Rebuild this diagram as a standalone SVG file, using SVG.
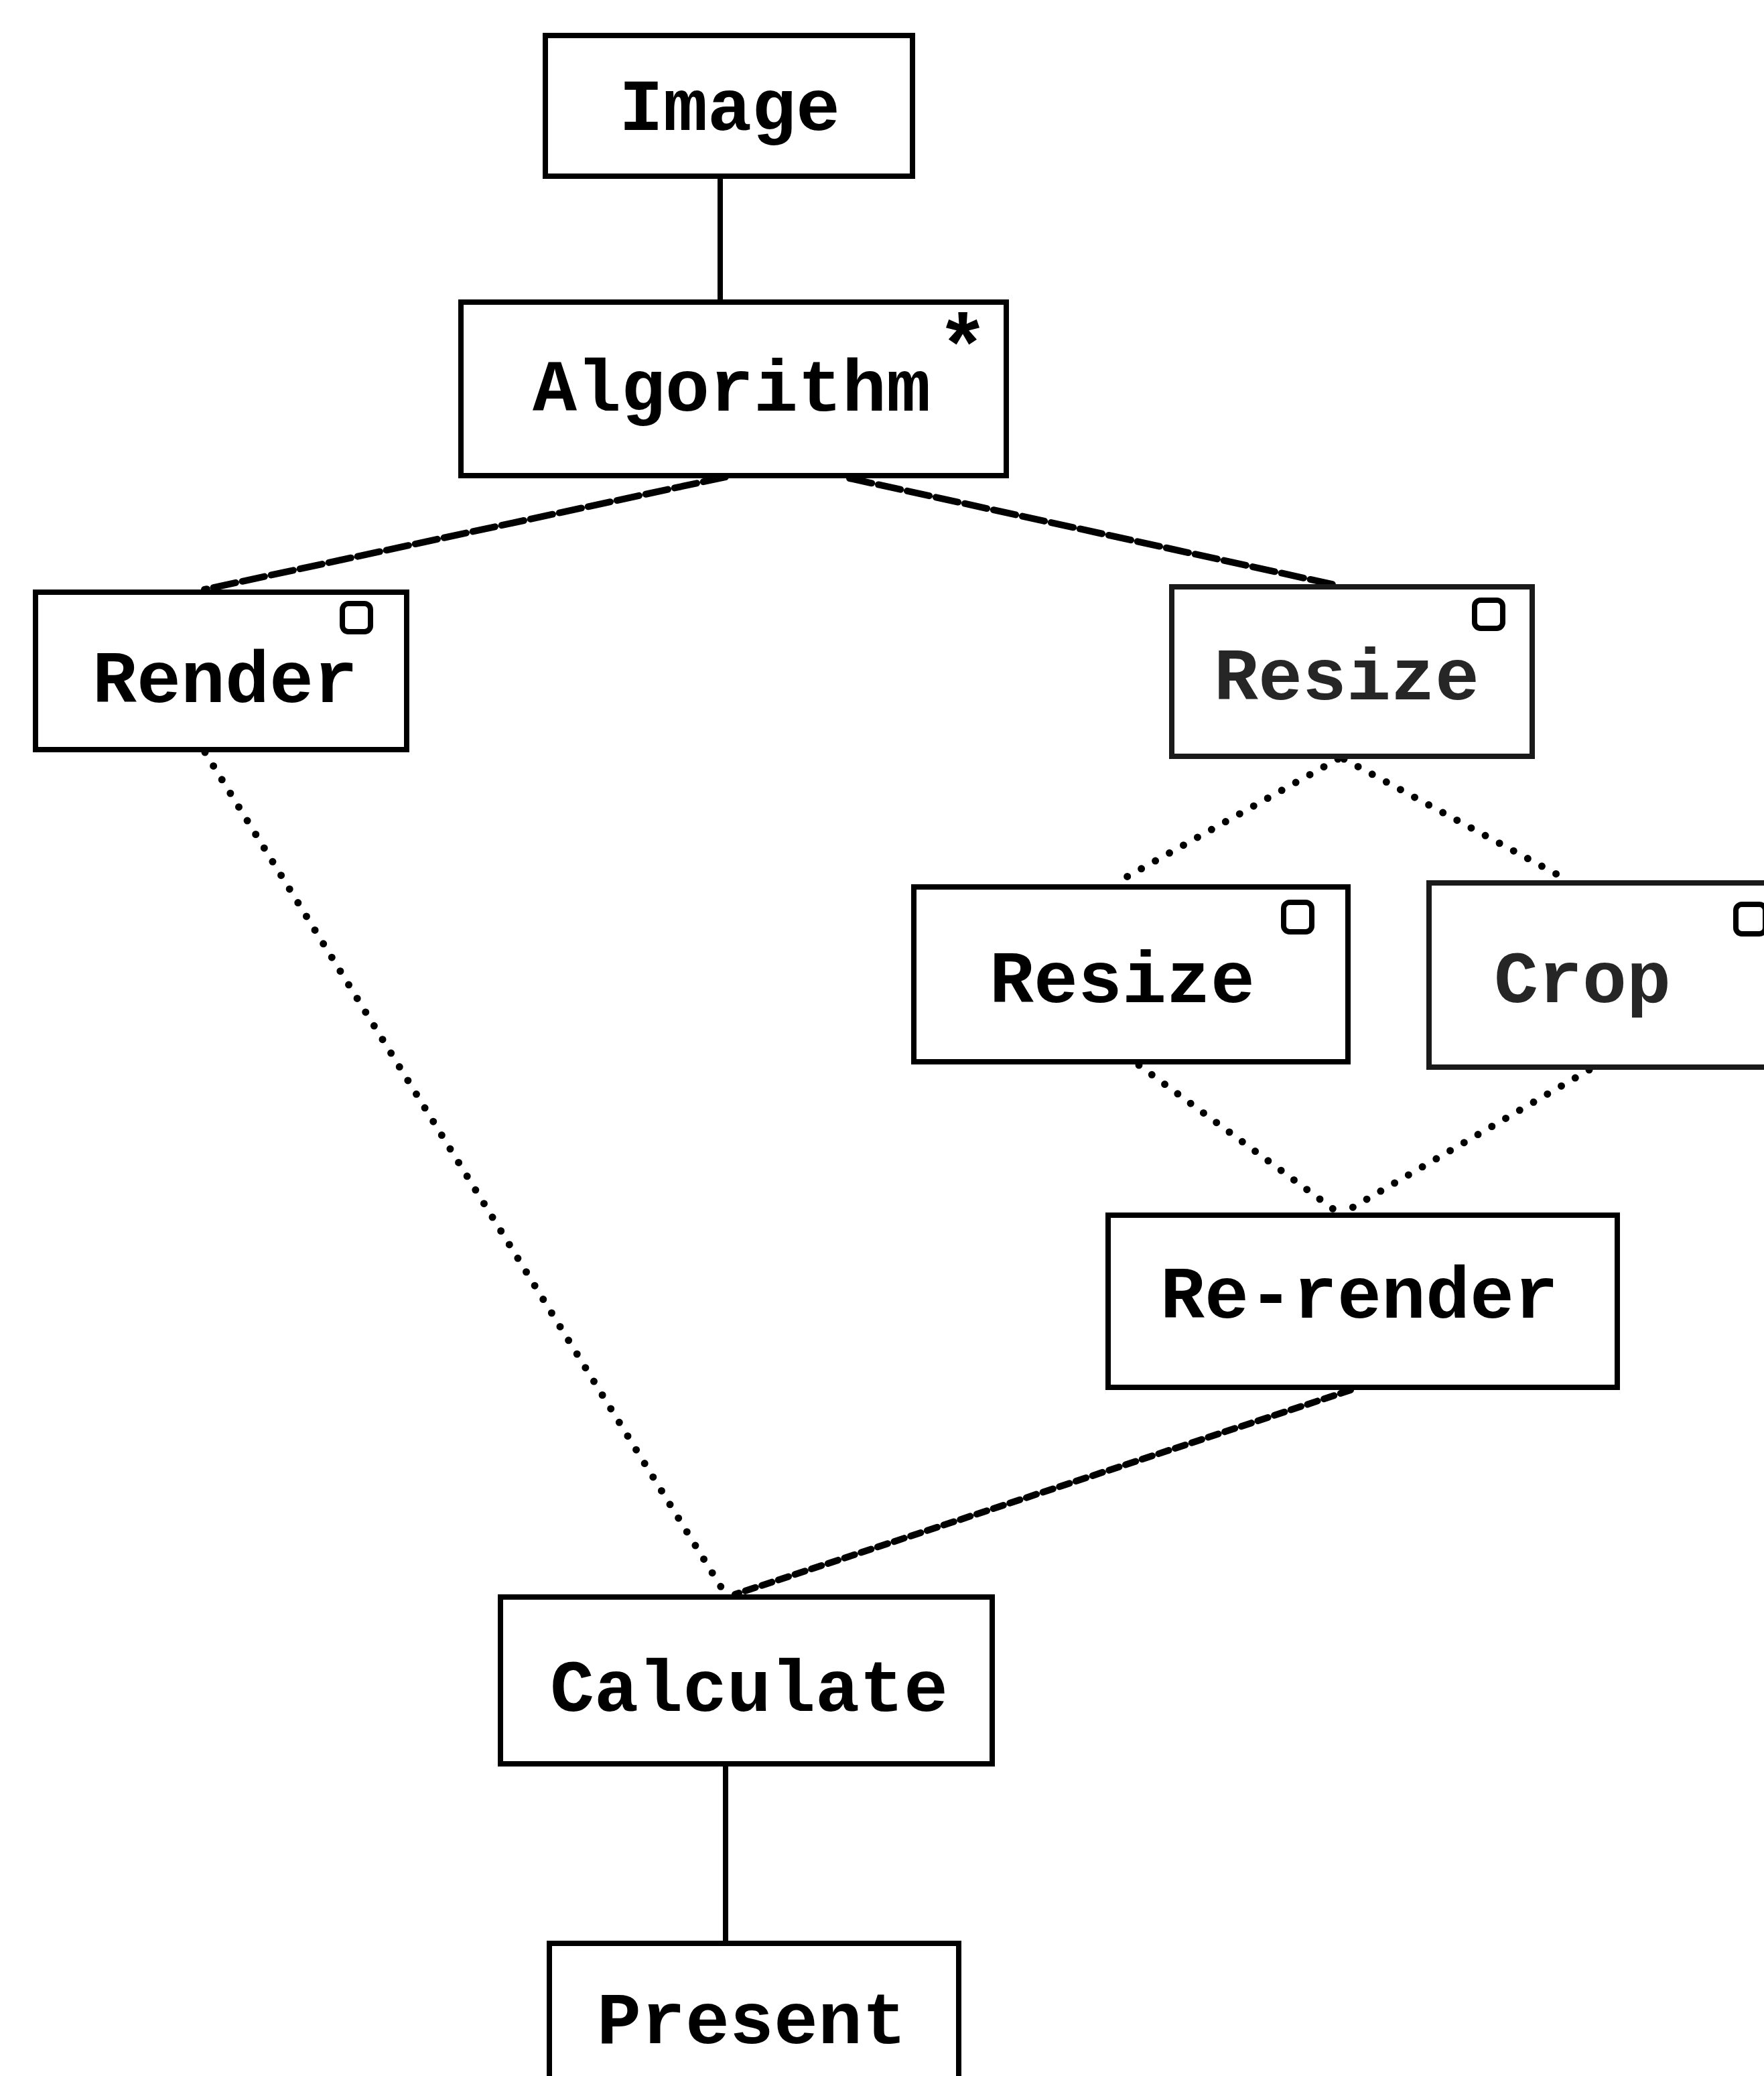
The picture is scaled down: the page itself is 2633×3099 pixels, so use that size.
<svg xmlns="http://www.w3.org/2000/svg" width="2633" height="3099" viewBox="0 0 2633 3099">
  <style>
    .box { fill: #ffffff; stroke: #000000; stroke-width: 8; }
    .box-faint { fill: #ffffff; stroke: #1a1a1a; stroke-width: 8; }
    .label { font-family: "Liberation Mono", "DejaVu Sans Mono", monospace; font-size: 110px; font-weight: bold; fill: #000000; text-anchor: middle; }
    .label-faint { fill: #262626; }
    .star { font-family: "Liberation Mono", "DejaVu Sans Mono", monospace; font-size: 130px; font-weight: bold; fill: #000000; text-anchor: middle; }
    .opt { fill: none; stroke: #000000; stroke-width: 8; }
    .solid { stroke: #000000; stroke-width: 8; fill: none; }
    .dashed { stroke: #000000; stroke-width: 10; fill: none; stroke-dasharray: 34 10; stroke-linecap: round; }
    .dashed-short { stroke: #000000; stroke-width: 10; fill: none; stroke-dasharray: 16 10; stroke-linecap: round; }
    .dotted { stroke: #000000; stroke-width: 11; fill: none; stroke-dasharray: 0 24; stroke-linecap: round; }
  </style>

  <rect width="2633" height="3099" fill="#ffffff"/>

  <!-- connectors -->
  <g id="connectors">
    <line class="solid" x1="1075" y1="263" x2="1075" y2="451"/>
    <line class="dashed" x1="1083" y1="712" x2="305" y2="880"/>
    <line class="dashed" x1="1268" y1="714" x2="1997" y2="874"/>
    <line class="dotted" x1="1997" y1="1133" x2="1662" y2="1320"/>
    <line class="dotted" x1="2006" y1="1133" x2="2342" y2="1315"/>
    <line class="dotted" x1="1700" y1="1590" x2="1997" y2="1810"/>
    <line class="dotted" x1="2372" y1="1597" x2="2006" y2="1810"/>
    <line class="dotted" x1="306" y1="1123" x2="1083" y2="2380"/>
    <line class="dashed-short" x1="2016" y1="2075" x2="1097" y2="2380"/>
    <line class="solid" x1="1083" y1="2633" x2="1083" y2="2901"/>
  </g>

  <!-- nodes -->
  <g id="node-image">
    <rect class="box" x="814" y="53" width="548" height="210"/>
    <text class="label" x="1089" y="194">Image</text>
  </g>

  <g id="node-algorithm">
    <rect class="box" x="688" y="451" width="814" height="259"/>
    <text class="label" x="1092" y="613">Algorithm</text>
    <text class="star" x="1437" y="560">*</text>
  </g>

  <g id="node-render">
    <rect class="box" x="53" y="884" width="554" height="235"/>
    <text class="label" x="336" y="1048">Render</text>
    <rect class="opt" x="511" y="901" width="42" height="42" rx="9"/>
  </g>

  <g id="node-resize-outer">
    <rect class="box-faint" x="1749" y="876" width="538" height="253"/>
    <text class="label label-faint" x="2010" y="1044">Resize</text>
    <rect class="opt" x="2201" y="896" width="42" height="42" rx="9"/>
  </g>

  <g id="node-resize-inner">
    <rect class="box" x="1364" y="1324" width="648" height="261"/>
    <text class="label" x="1675" y="1496">Resize</text>
    <rect class="opt" x="1916" y="1347" width="42" height="44" rx="9"/>
  </g>

  <g id="node-crop">
    <rect class="box-faint" x="2133" y="1318" width="540" height="275"/>
    <text class="label label-faint" x="2362" y="1496">Crop</text>
    <rect class="opt" x="2591" y="1350" width="44" height="44" rx="9"/>
  </g>

  <g id="node-rerender">
    <rect class="box" x="1654" y="1814" width="760" height="257"/>
    <text class="label" x="2029" y="1967">Re-render</text>
  </g>

  <g id="node-calculate">
    <rect class="box" x="747" y="2384" width="734" height="249"/>
    <text class="label" x="1118" y="2554">Calculate</text>
  </g>

  <g id="node-present">
    <rect class="box" x="820" y="2901" width="611" height="240"/>
    <text class="label" x="1122" y="3050">Present</text>
  </g>
</svg>
